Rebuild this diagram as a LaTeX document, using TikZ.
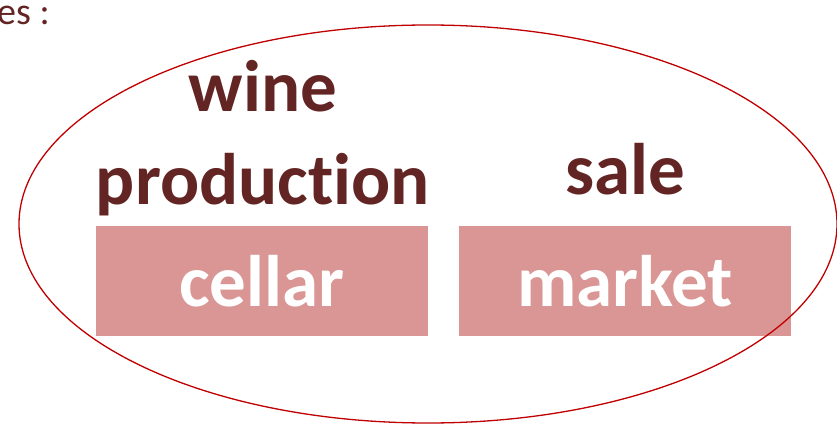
\documentclass[tikz,border=0pt]{standalone}
\usepackage{fontspec}
\setmainfont[Ligatures=NoCommon]{Carlito}
\definecolor{winered}{HTML}{632523}
\definecolor{boxpink}{HTML}{D99694}
\definecolor{ringred}{HTML}{C00000}

\begin{document}
\begin{tikzpicture}[x=1pt, y=-1pt]
    \tikzstyle{place} = [fill = boxpink, text = white, font = \bfseries\fontsize{73}{73}\selectfont,
                         minimum width = 332pt, minimum height = 110pt, inner sep = 0pt];
    \tikzstyle{activity} = [text = winered, font = \bfseries\fontsize{73}{93}\selectfont,
                            align = center, inner sep = 0pt];
    \useasboundingbox (0,0) rectangle (837,430);
    \node[anchor = base west, text = winered, font = \fontsize{38}{38}\selectfont, inner sep = 0pt] (head) at (-3,25) {es :};
    \node[activity, anchor = base] (prod) at (263,205) {wine\\production};
    \node[activity, anchor = base] (sale) at (625,195) {sale};
    \node[place] (cellar) at (262,281) {cellar};
    \node[place] (market) at (625,281) {market};
    \draw[ringred, line width = 1.3pt] (428,224) ellipse [x radius = 409, y radius = 199];
\end{tikzpicture}
\end{document}
